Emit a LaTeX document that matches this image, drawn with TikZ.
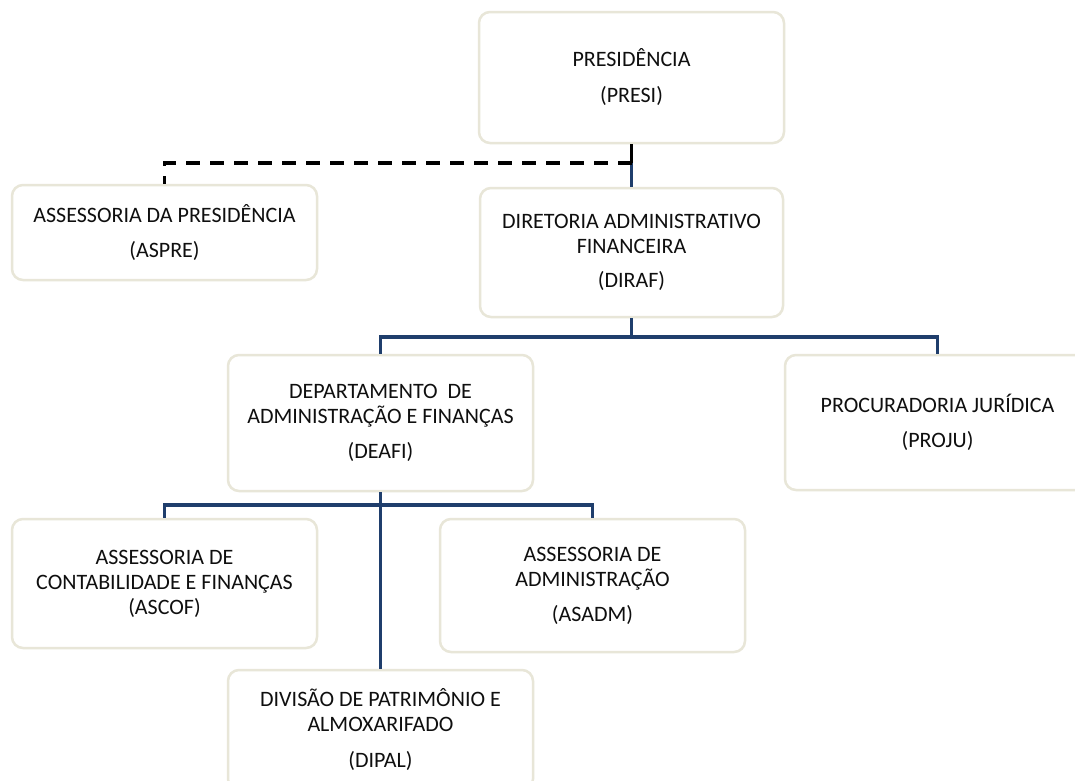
\documentclass[tikz,border=0pt]{standalone}
\usepackage{fontspec}
\setmainfont{Carlito}
\definecolor{boxline}{RGB}{232,230,216}
\definecolor{navy}{RGB}{31,62,108}
\definecolor{txt}{RGB}{15,15,15}
\begin{document}
\begin{tikzpicture}[x=1pt,y=-1pt,
  box/.style={draw=boxline, line width=2.5pt, rounded corners=11pt, fill=white,
    align=center, text=txt, font=\fontsize{22}{25}\selectfont, inner sep=0pt},
  conn/.style={draw=navy, line width=3.4pt},
  dashconn/.style={draw=black, line width=3.6pt, dash pattern=on 14pt off 10pt}]
\useasboundingbox (0,0) rectangle (1075,780);
\clip (0,0) rectangle (1075,780);
\fill[white] (0,0) rectangle (1075,780);

\node[box, minimum width=305pt, minimum height=131pt] (presi) at (631.5,77.5)
  {PRESIDÊNCIA\\[11pt](PRESI)};
\node[box, minimum width=305pt, minimum height=95pt] (aspre) at (164.5,232.5)
  {ASSESSORIA DA PRESIDÊNCIA\\[10pt](ASPRE)};
\node[box, minimum width=303pt, minimum height=129pt] (diraf) at (631.5,252.5)
  {DIRETORIA ADMINISTRATIVO\\FINANCEIRA\\[9pt](DIRAF)};
\node[box, minimum width=305pt, minimum height=136pt] (deafi) at (380.5,423)
  {DEPARTAMENTO\ \ DE\\ADMINISTRAÇÃO E FINANÇAS\\[10pt](DEAFI)};
\node[box, minimum width=305pt, minimum height=135pt] (proju) at (937.5,422.5)
  {PROCURADORIA JURÍDICA\\[10pt](PROJU)};
\node[box, minimum width=305pt, minimum height=129pt] (ascof) at (164.5,583.5)
  {ASSESSORIA DE\\CONTABILIDADE E FINANÇAS\\(ASCOF)};
\node[box, minimum width=305pt, minimum height=133pt] (asadm) at (592.5,585.5)
  {ASSESSORIA DE\\ADMINISTRAÇÃO\\[10pt](ASADM)};
\node[box, minimum width=305pt, minimum height=120pt] (dipal) at (380.5,730)
  {DIVISÃO DE PATRIMÔNIO E\\ALMOXARIFADO\\[11pt](DIPAL)};

\coordinate (d1) at (631.5,163);
\coordinate (j1) at (631.5,337);
\coordinate (j2) at (380.5,505);

\draw[conn] (presi.south) -- (diraf.north);
\draw[draw=black, line width=3.6pt] (presi.south) -- (d1);
\draw[dashconn] (d1) -| (aspre.north);

\draw[conn] (diraf.south) -- (j1);
\draw[conn] (deafi.north) |- (j1) -| (proju.north);

\draw[conn] (ascof.north) |- (j2) -| (asadm.north);
\draw[conn] (deafi.south) -- (dipal.north);
\end{tikzpicture}
\end{document}
